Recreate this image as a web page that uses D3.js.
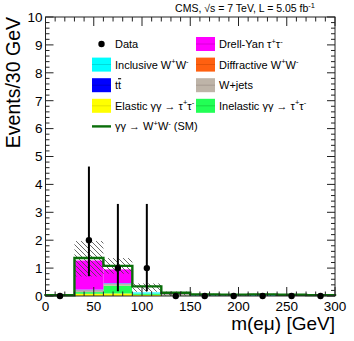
<!DOCTYPE html>
<html><head><meta charset="utf-8">
<script src="https://cdn.jsdelivr.net/npm/d3@7"></script>
<style>body{margin:0;background:#fff}svg{display:block;font-family:"Liberation Sans",Arial,sans-serif}</style>
</head><body><svg id="c" width="354" height="341"></svg>
<script>
// ---- data ----
const binEdges = [0,30,60,90,120,150,180,210,240,270,300];
const elasticTT   = [0.01,0.08,0.09,0.04,0.01,0.005,0,0,0,0];
const inelasticTT = [0.01,0.06,0.28,0.04,0.01,0.01,0.005,0.005,0,0];
const wjets       = [0,0.07,0.07,0,0.05,0,0,0,0,0];
const ttbar       = [0,0.01,0.01,0,0.01,0.005,0.005,0.005,0.005,0];
const diffWW      = [0,0,0,0.005,0.005,0,0,0,0,0];
const inclWW      = [0,0.01,0.01,0.05,0.02,0.02,0.02,0.04,0.03,0.02];
const dyTT        = [0,1.05,0.50,0,0,0,0,0,0,0];
const signalWW    = [0.005,0.08,0.12,0.21,0.01,0.02,0.02,0.01,0.01,0.01];
const bandLo = [0,0.70,0.80,0.15,0.02,0,0,0,0,0];
const bandHi = [0.04,1.97,1.36,0.45,0.16,0.08,0.06,0.08,0.06,0.05];
const dataCounts = [0,2,1,1,0,0,0,0,0,0];
const dataErrLo  = [0,1.29,0.83,0.83,0,0,0,0,0,0];
const dataErrHi  = [0,2.64,2.30,2.30,0,0,0,0,0,0];
const xTicks = [0,50,100,150,200,250,300];
const yTicks = [0,1,2,3,4,5,6,7,8,9,10];

const layers = [
  {v:elasticTT, c:"#ffff00"},
  {v:inelasticTT, c:"#22ff55"},
  {v:wjets, c:"#beb4a8"},
  {v:ttbar, c:"#0000ff"},
  {v:diffWW, c:"#ff6010"},
  {v:inclWW, c:"#00ffff"},
  {v:dyTT, c:"#ff00ff"},
  {v:signalWW, c:"#ffffff"}
];

const svg = d3.select("#c");
const L=45.5, R=335, T=17, B=296;
const x = d3.scaleLinear().domain([0,300]).range([L,R]);
const y = d3.scaleLinear().domain([0,10]).range([B,T]);

const defs = svg.append("defs");
defs.append("pattern").attr("id","hatch").attr("patternUnits","userSpaceOnUse")
  .attr("width",5).attr("height",5)
  .append("path").attr("d","M0,0 L5,5 M-1,4 L1,6 M4,-1 L6,1")
  .attr("stroke","#444").attr("stroke-width",0.8);

// stack
const nb = dataCounts.length;
const cum = new Array(nb).fill(0);
layers.forEach(Ly=>{
  for(let i=0;i<nb;i++){
    const v=Ly.v[i]; if(v<=0) continue;
    svg.append("rect").attr("x",x(binEdges[i])).attr("width",x(binEdges[i+1])-x(binEdges[i]))
      .attr("y",y(cum[i]+v)).attr("height",y(cum[i])-y(cum[i]+v)).attr("fill",Ly.c);
    cum[i]+=v;
  }
});
// uncertainty band
for(let i=0;i<nb;i++){
  svg.append("rect").attr("x",x(binEdges[i])).attr("width",x(binEdges[i+1])-x(binEdges[i]))
    .attr("y",y(bandHi[i])).attr("height",y(bandLo[i])-y(bandHi[i])).attr("fill","url(#hatch)");
}
// total outline
let d = `M${x(0)},${y(0)}`;
for(let i=0;i<nb;i++){ d+=`L${x(binEdges[i])},${y(cum[i])}L${x(binEdges[i+1])},${y(cum[i])}`; }
d+=`L${x(300)},${y(0)}`;
svg.append("path").attr("d",d).attr("fill","none").attr("stroke","#0a6e0a").attr("stroke-width",2.4);

// frame + ticks
const ax = svg.append("g").attr("stroke","#222").attr("stroke-width",1).attr("fill","none");
ax.append("rect").attr("x",L).attr("y",T).attr("width",R-L).attr("height",B-T);
for(let v=0;v<=300;v+=10){
  const len = v%50===0?9:4.5;
  ax.append("line").attr("x1",x(v)).attr("x2",x(v)).attr("y1",B).attr("y2",B-len);
  ax.append("line").attr("x1",x(v)).attr("x2",x(v)).attr("y1",T).attr("y2",T+len);
}
for(let k=0;k<=50;k++){
  const v=k*0.2; const len = k%5===0?8:4;
  ax.append("line").attr("x1",L).attr("x2",L+len).attr("y1",y(v)).attr("y2",y(v));
  ax.append("line").attr("x1",R).attr("x2",R-len).attr("y1",y(v)).attr("y2",y(v));
}
svg.append("g").selectAll("text").data(yTicks).join("text")
  .attr("x",42.5).attr("y",v=>y(v)).attr("dy","0.36em").attr("text-anchor","end")
  .attr("font-size",13.5).text(v=>v);
svg.append("g").selectAll("text").data(xTicks).join("text")
  .attr("x",v=>x(v)).attr("y",311).attr("text-anchor","middle")
  .attr("font-size",13.5).text(v=>v);

// data
const centers = dataCounts.map((v,i)=>(binEdges[i]+binEdges[i+1])/2);
dataCounts.forEach((v,i)=>{
  if(dataErrHi[i]>0){
    svg.append("line").attr("x1",x(centers[i])).attr("x2",x(centers[i]))
      .attr("y1",y(v-dataErrLo[i])).attr("y2",y(v+dataErrHi[i])).attr("stroke","#000").attr("stroke-width",2);
  }
  svg.append("circle").attr("cx",x(centers[i])).attr("cy",y(v)).attr("r",3.2).attr("fill","#000");
});

// titles
svg.append("text").attr("x",315).attr("y",12).attr("text-anchor","end").attr("font-size",10.5)
  .call(t=>{t.append("tspan").text("CMS, √s = 7 TeV, L = 5.05 fb");
            t.append("tspan").attr("dy",-4).attr("font-size",7.5).text("-1");});
svg.append("text").attr("transform","translate(20,17) rotate(-90)").attr("text-anchor","end")
  .attr("font-size",19.5).text("Events/30 GeV");
svg.append("text").attr("x",335).attr("y",330).attr("text-anchor","end").attr("font-size",19)
  .text("m(eμ) [GeV]");

// legend
function rich(sel, segs){
  let shift=0;
  segs.forEach(s=>{
    if(typeof s==="string"){ sel.append("tspan").attr("dy",-shift).text(s); shift=0; }
    else if(s.sup){ sel.append("tspan").attr("dy",-4.5-shift).attr("font-size",7.5).text(s.sup); shift=-4.5; }
    else if(s.over){ sel.append("tspan").attr("dy",-shift).attr("text-decoration","overline").text(s.over); shift=0; }
  });
}
const legend = [
  {col:0,row:0,type:"data",segs:["Data"]},
  {col:0,row:1,type:"box",c:"#00ffff",lc:"#00b0b0",segs:["Inclusive W",{sup:"+"},"W",{sup:"-"}]},
  {col:0,row:2,type:"box",c:"#0000ff",lc:"#0000a0",segs:["t",{over:"t"}]},
  {col:0,row:3,type:"box",c:"#ffff00",lc:"#c8c800",segs:["Elastic γγ → τ",{sup:"+"},"τ",{sup:"-"}]},
  {col:0,row:4,type:"line",segs:["γγ → W",{sup:"+"},"W",{sup:"-"}," (SM)"]},
  {col:1,row:0,type:"box",c:"#ff00ff",lc:"#b000b0",segs:["Drell-Yan τ",{sup:"+"},"τ",{sup:"-"}]},
  {col:1,row:1,type:"box",c:"#ff6010",lc:"#c04000",segs:["Diffractive W",{sup:"+"},"W",{sup:"-"}]},
  {col:1,row:2,type:"box",c:"#beb4a8",lc:"#8a8078",segs:["W+jets"]},
  {col:1,row:3,type:"box",c:"#22ff55",lc:"#10b030",segs:["Inelastic γγ → τ",{sup:"+"},"τ",{sup:"-"}]}
];
const colX=[92,196], rowY=r=>44+r*20.6;
legend.forEach(e=>{
  const bx=colX[e.col], cy=rowY(e.row);
  if(e.type==="box"){
    svg.append("rect").attr("x",bx).attr("y",cy-7).attr("width",19).attr("height",14).attr("fill",e.c);
    svg.append("line").attr("x1",bx).attr("x2",bx+19).attr("y1",cy).attr("y2",cy).attr("stroke",e.lc).attr("stroke-width",0.8).attr("opacity",0.6);
  } else if(e.type==="line"){
    svg.append("line").attr("x1",bx).attr("x2",bx+19).attr("y1",cy).attr("y2",cy).attr("stroke","#0a6e0a").attr("stroke-width",2.4);
  } else {
    svg.append("circle").attr("cx",bx+9.5).attr("cy",cy).attr("r",3.2).attr("fill","#000");
  }
  const t=svg.append("text").attr("x",bx+23).attr("y",cy+4).attr("font-size",11);
  rich(t,e.segs);
});
</script></body></html>
